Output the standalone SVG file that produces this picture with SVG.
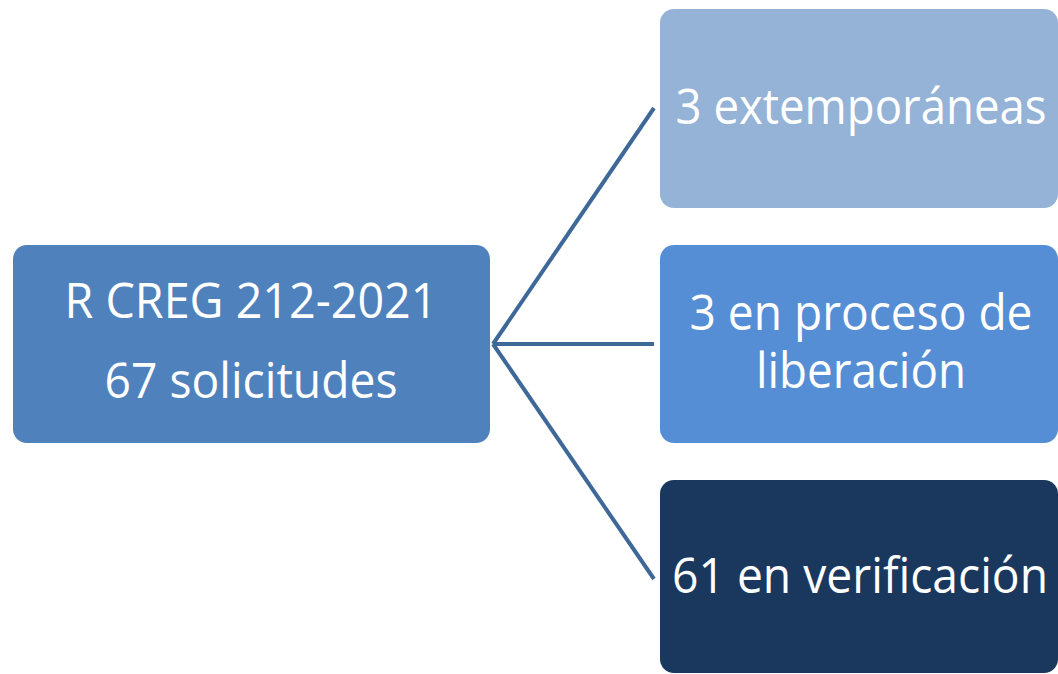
<svg xmlns="http://www.w3.org/2000/svg" width="1058" height="674" viewBox="0 0 1058 674">
<style>
.t{font-family:"Open Sans","Noto Sans","Liberation Sans",sans-serif;font-size:49px;fill:#ffffff;text-anchor:middle}
.c{stroke:#3E6898;stroke-width:4;fill:none}
</style>
<rect width="1058" height="674" fill="#ffffff"/>
<g id="connectors">
<line class="c" x1="493" y1="344" x2="654" y2="108"/>
<line class="c" x1="493" y1="344" x2="654" y2="344"/>
<line class="c" x1="493" y1="344" x2="654" y2="579"/>
</g>
<g id="root">
<rect x="13" y="245" width="477" height="198" rx="14" fill="#4F81BD"/>
<text class="t" x="251" y="318" textLength="373" lengthAdjust="spacingAndGlyphs">R CREG 212-2021</text>
<text class="t" x="251" y="398" textLength="293" lengthAdjust="spacingAndGlyphs">67 solicitudes</text>
</g>
<g id="extemporaneas">
<rect x="660" y="9" width="398" height="199" rx="14" fill="#95B3D7"/>
<text class="t" x="861" y="124" textLength="371" lengthAdjust="spacingAndGlyphs">3 extemporáneas</text>
</g>
<g id="liberacion">
<rect x="660" y="245" width="398" height="198" rx="14" fill="#558ED5"/>
<text class="t" x="861" y="330" textLength="343" lengthAdjust="spacingAndGlyphs">3 en proceso de</text>
<text class="t" x="861" y="388" textLength="210" lengthAdjust="spacingAndGlyphs">liberación</text>
</g>
<g id="verificacion">
<rect x="660" y="480" width="398" height="193" rx="14" fill="#1A375E"/>
<text class="t" x="860" y="593" textLength="376" lengthAdjust="spacingAndGlyphs">61 en verificación</text>
</g>
</svg>
